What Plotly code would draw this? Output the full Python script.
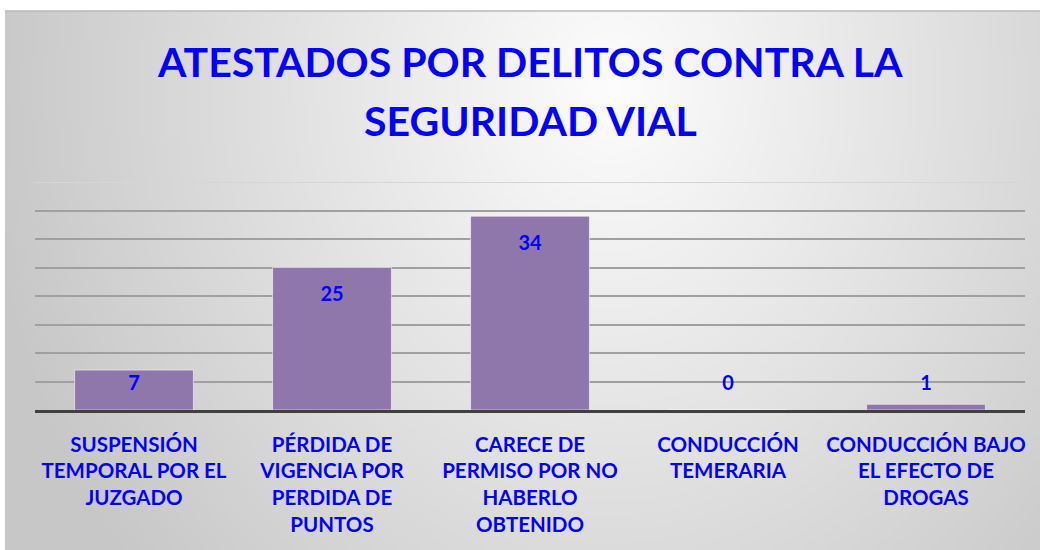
import base64, struct, zlib
import numpy as np
import plotly.graph_objects as go

# ---- data ----
categories = [
    "SUSPENSIÓN<br>TEMPORAL POR EL<br>JUZGADO",
    "PÉRDIDA DE<br>VIGENCIA POR<br>PERDIDA DE<br>PUNTOS",
    "CARECE DE<br>PERMISO POR NO<br>HABERLO<br>OBTENIDO",
    "CONDUCCIÓN<br>TEMERARIA",
    "CONDUCCIÓN BAJO<br>EL EFECTO DE<br>DROGAS",
]
values = [7, 25, 34, 0, 1]
title_lines = ["ATESTADOS POR DELITOS CONTRA LA", "SEGURIDAD VIAL"]

W, H = 1040, 550
ML, MR, MT, MB = 35, 15, 182, 140
PW, PH = W - ML - MR, H - MT - MB
FONT = "Lato"
BLUE = "#0000ff"

# ---- background gradient image (radial, light near top centre) ----
def make_png(arr):
    h, w, _ = arr.shape
    raw = b"".join(b"\x00" + arr[i].tobytes() for i in range(h))
    def chunk(t, d):
        c = struct.pack(">I", len(d)) + t + d
        return c + struct.pack(">I", zlib.crc32(t + d) & 0xffffffff)
    return (b"\x89PNG\r\n\x1a\n" + chunk(b"IHDR", struct.pack(">IIBBBBB", w, h, 8, 2, 0, 0, 0))
            + chunk(b"IDAT", zlib.compress(raw, 9)) + chunk(b"IEND", b""))

bx0, by0 = 5, 11
bw, bh = W - bx0, H - by0
sc = 4
gw, gh = bw // sc, bh // sc
xs = bx0 + (np.arange(gw) + 0.5) * sc
ys = by0 + (np.arange(gh) + 0.5) * sc
X, Y = np.meshgrid(xs, ys)
d = np.sqrt(((X - 610) / 615) ** 2 + ((Y - 85) / 720) ** 2)
v = np.clip(253 - 52 * d, 199, 253).astype(np.uint8)
img = np.stack([v, v, v], axis=-1)
src = "data:image/png;base64," + base64.b64encode(make_png(img)).decode()

label_y = [max(val - 5, 4.4) for val in values]

fig = go.Figure()
fig.add_trace(go.Bar(
    x=categories, y=values,
    marker=dict(color="#8f77ab", line=dict(color="rgba(255,255,255,0.55)", width=1)),
    hoverinfo="skip",
))
fig.add_trace(go.Scatter(
    x=categories, y=label_y, mode="text", text=[str(v) for v in values],
    textfont=dict(family=FONT, size=20, color=BLUE, weight="bold"),
    hoverinfo="skip",
))

fig.add_layout_image(dict(
    source=src, xref="paper", yref="paper",
    x=(bx0 - ML) / PW, y=(H - MB - by0) / PH,
    sizex=bw / PW, sizey=bh / PH,
    sizing="stretch", xanchor="left", yanchor="top", layer="below",
))
# top border of chart area
fig.add_shape(type="line", xref="paper", yref="paper",
              x0=(bx0 - ML) / PW, x1=(W - ML) / PW,
              y0=(H - MB - by0) / PH, y1=(H - MB - by0) / PH,
              line=dict(color="#b8b8b8", width=1.5))
# top (lighter) gridline
fig.add_shape(type="line", xref="paper", yref="y", x0=0, x1=1, y0=40, y1=40,
              line=dict(color="#d6d6d6", width=2), layer="below")

# title lines
for line, ypx in zip(title_lines, [62, 121]):
    fig.add_annotation(text=line, xref="paper", yref="paper",
                       x=0.5, y=(H - MB - ypx) / PH, xanchor="center", yanchor="middle",
                       showarrow=False,
                       font=dict(family=FONT, size=41, color=BLUE, weight="bold"))

fig.update_layout(
    width=W, height=H,
    margin=dict(l=ML, r=MR, t=MT, b=MB),
    paper_bgcolor="white", plot_bgcolor="rgba(0,0,0,0)",
    showlegend=False, hovermode=False,
    bargap=0.4,
    xaxis=dict(showline=True, linecolor="#404040", linewidth=3,
               ticks="outside", ticklen=14, tickcolor="rgba(0,0,0,0)",
               tickfont=dict(family=FONT, size=20.5, color=BLUE, weight="bold"),
               showgrid=False, fixedrange=True),
    yaxis=dict(range=[0, 40], tickvals=[5, 10, 15, 20, 25, 30, 35],
               showticklabels=False, showgrid=True, gridcolor="#a0a0a0", gridwidth=2,
               zeroline=False, fixedrange=True),
)

fig.write_html("out.html", config={"displayModeBar": False},
               post_script="document.body.style.margin='0';")
